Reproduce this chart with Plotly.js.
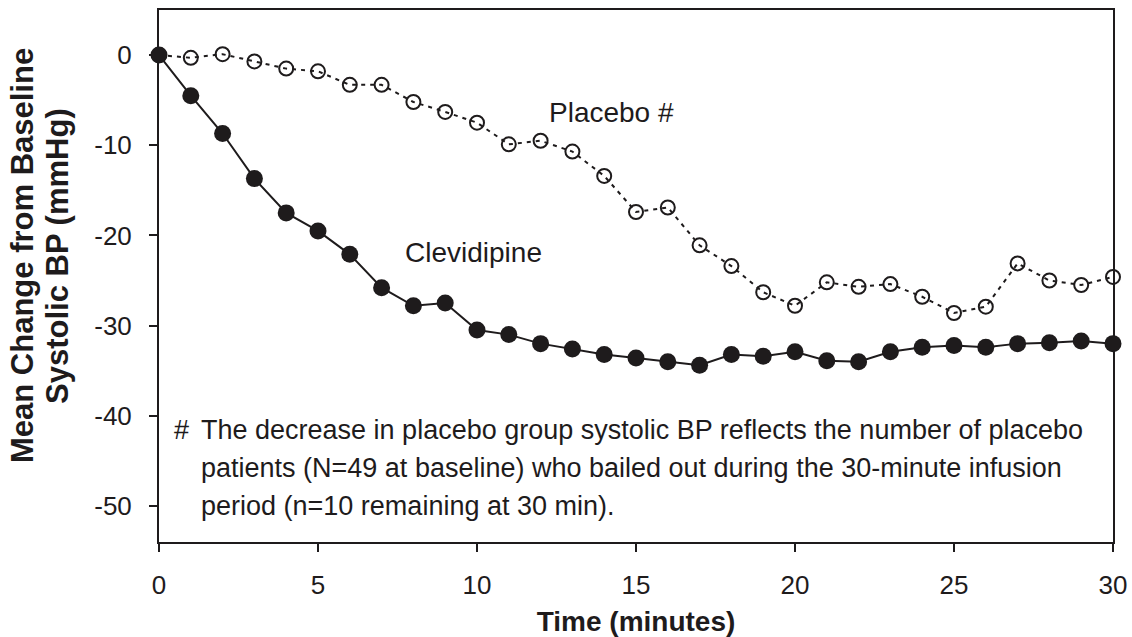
<!DOCTYPE html>
<html>
<head>
<meta charset="utf-8">
<script src="https://cdn.plot.ly/plotly-3.0.1.min.js"></script>
<style>html,body{margin:0;padding:0;background:#fff;}#chart{width:1132px;height:637px;}</style>
</head>
<body>
<div id="chart"></div>
<script>
var minutes = [0,1,2,3,4,5,6,7,8,9,10,11,12,13,14,15,16,17,18,19,20,21,22,23,24,25,26,27,28,29,30];
var clevidipine = [0,-4.5,-8.7,-13.7,-17.5,-19.5,-22.1,-25.8,-27.8,-27.5,-30.5,-31.0,-32.0,-32.6,-33.2,-33.6,-34.0,-34.4,-33.2,-33.4,-32.9,-33.9,-34.0,-32.9,-32.4,-32.2,-32.4,-32.0,-31.9,-31.7,-32.0];
var placebo = [0,-0.3,0.1,-0.7,-1.5,-1.8,-3.3,-3.3,-5.2,-6.3,-7.5,-9.9,-9.5,-10.7,-13.4,-17.4,-16.9,-21.1,-23.4,-26.3,-27.8,-25.2,-25.7,-25.4,-26.8,-28.6,-27.9,-23.1,-25.0,-25.5,-24.6];
var xTicks = [0,5,10,15,20,25,30];
var yTicks = [0,-10,-20,-30,-40,-50];
var seriesNames = ["Placebo #","Clevidipine"];
var xTitle = "Time (minutes)";
var yTitleLines = ["Mean Change from Baseline","Systolic BP (mmHg)"];
var footnoteLines = [
  "The decrease in placebo group systolic BP reflects the number of placebo",
  "patients (N=49 at baseline) who bailed out during the 30-minute infusion",
  "period (n=10 remaining at 30 min)."
];
var FONT = "Arial, 'Liberation Sans', Helvetica, sans-serif";
var C = "#1e1b1c";

var traces = [
  {x: minutes, y: placebo, type: "scatter", mode: "lines+markers", name: seriesNames[0],
   line: {color: C, width: 2, dash: "4px,5px"},
   marker: {symbol: "circle-open", size: 14, color: C, line: {width: 2, color: C}},
   cliponaxis: false},
  {x: minutes, y: clevidipine, type: "scatter", mode: "lines+markers", name: seriesNames[1],
   line: {color: C, width: 2},
   marker: {symbol: "circle", size: 17, color: C},
   cliponaxis: false}
];

var annotations = [
  {x: 12.2, y: -6.4, xref: "x", yref: "y", text: seriesNames[0], showarrow: false, xanchor: "left", yanchor: "middle", font: {family: FONT, size: 28, color: C}},
  {x: 7.67, y: -21.9, xref: "x", yref: "y", text: seriesNames[1], showarrow: false, xanchor: "left", yanchor: "middle", font: {family: FONT, size: 28, color: C}},
  {x: 0.42, y: -41.6, xref: "x", yref: "y", text: "#", showarrow: false, xanchor: "left", yanchor: "middle", font: {family: FONT, size: 27, color: C}},
  {x: (23 - 159) / 954, y: (542 - 256) / 532, xref: "paper", yref: "paper", text: "<b>" + yTitleLines[0] + "</b>", textangle: -90,
   showarrow: false, xanchor: "center", yanchor: "middle", font: {family: FONT, size: 31, color: C}},
  {x: (58 - 159) / 954, y: (542 - 256) / 532, xref: "paper", yref: "paper", text: "<b>" + yTitleLines[1] + "</b>", textangle: -90,
   showarrow: false, xanchor: "center", yanchor: "middle", font: {family: FONT, size: 31, color: C}}
];
for (var i = 0; i < footnoteLines.length; i++) {
  annotations.push({x: 1.26, y: -41.6 - i * 4.2, xref: "x", yref: "y", text: footnoteLines[i], showarrow: false,
    xanchor: "left", yanchor: "middle", font: {family: FONT, size: 27, color: C}});
}

var layout = {
  width: 1132, height: 637,
  margin: {l: 159, r: 19, t: 10, b: 95},
  paper_bgcolor: "#fff", plot_bgcolor: "#fff",
  showlegend: false,
  font: {family: FONT, color: C, size: 26},
  xaxis: {
    range: [0, 30], tickvals: xTicks, ticktext: xTicks.map(String),
    showgrid: false, zeroline: false, showline: true, mirror: true, linecolor: C, linewidth: 2,
    ticks: "outside", ticklen: 8, tickwidth: 2, tickcolor: C,
    tickfont: {family: FONT, size: 26, color: C}, ticklabelstandoff: 11,
    title: {text: "<b>" + xTitle + "</b>", font: {family: FONT, size: 28, color: C}, standoff: 16},
    automargin: false
  },
  yaxis: {
    range: [-54, 5], tickvals: yTicks, ticktext: yTicks.map(String),
    showgrid: false, zeroline: false, showline: true, mirror: true, linecolor: C, linewidth: 2,
    ticks: "outside", ticklen: 8, tickwidth: 2, tickcolor: C,
    tickfont: {family: FONT, size: 26, color: C}, ticklabelstandoff: 12,
    automargin: false
  },
  annotations: annotations
};

Plotly.newPlot("chart", traces, layout, {displayModeBar: false, staticPlot: true});
</script>
</body>
</html>
